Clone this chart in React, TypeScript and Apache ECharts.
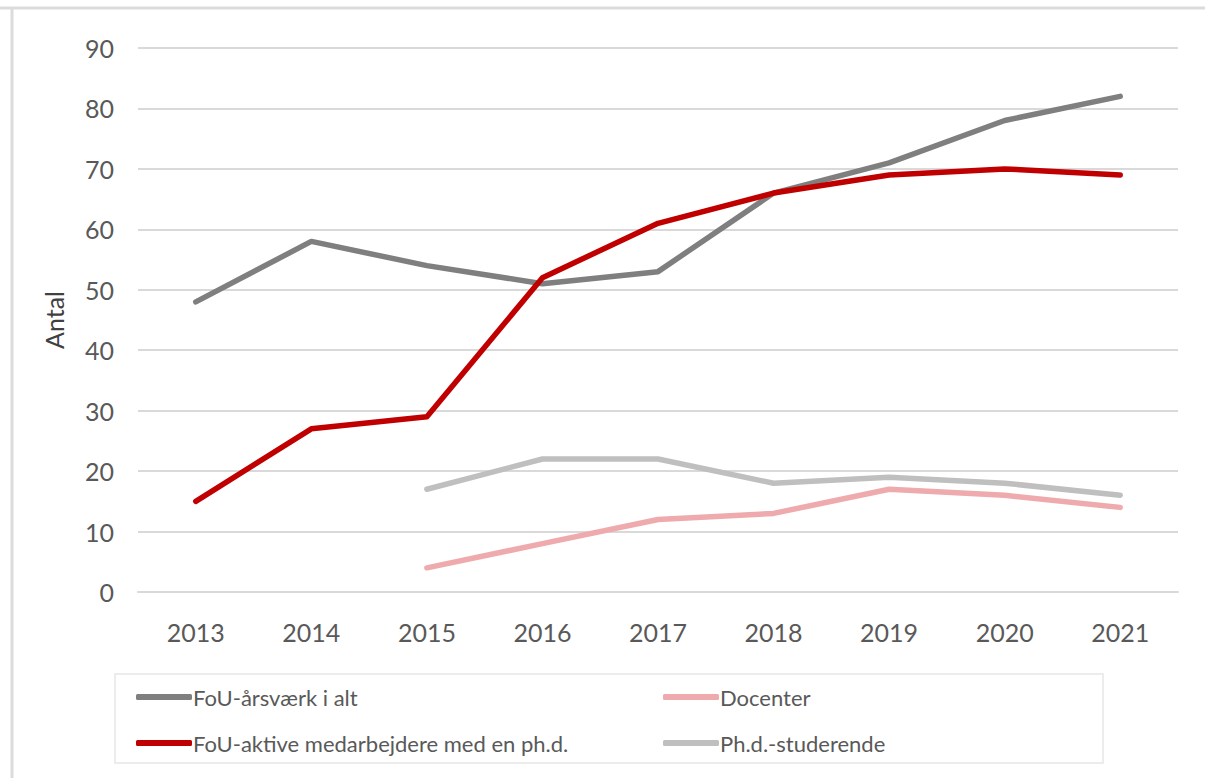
import React, { useEffect, useRef } from "react";
import * as echarts from "echarts";

const years = ["2013", "2014", "2015", "2016", "2017", "2018", "2019", "2020", "2021"];
const fouAarsvaerk = [48, 58, 54, 51, 53, 66, 71, 78, 82];
const fouAktive = [15, 27, 29, 52, 61, 66, 69, 70, 69];
const docenter = [null, null, 4, 8, 12, 13, 17, 16, 14];
const phdStuderende = [null, null, 17, 22, 22, 18, 19, 18, 16];
const names = [
  "FoU-årsværk i alt",
  "FoU-aktive medarbejdere med en ph.d.",
  "Docenter",
  "Ph.d.-studerende",
];
const colors = ["#7f7f7f", "#c00000", "#eeaaad", "#bfbfbf"];

const FONT = "Lato, 'DejaVu Sans Condensed', sans-serif";

export default function App() {
  const ref = useRef<HTMLDivElement>(null);
  useEffect(() => {
    document.body.style.margin = "0";
    const chart = echarts.init(ref.current!, null, { renderer: "svg" });
    const seriesData = [fouAarsvaerk, fouAktive, docenter, phdStuderende];
    const legendCommon = {
      orient: "vertical",
      top: 681,
      itemGap: 24,
      itemWidth: 56,
      itemHeight: 6,
      icon: "roundRect",
      textStyle: { color: "#595959", fontSize: 22, fontFamily: FONT, padding: [0, 0, 0, -4] },
    };
    chart.setOption({
      animation: false,
      backgroundColor: "#ffffff",
      grid: { left: 138, right: 27, top: 48, bottom: 186 },
      xAxis: {
        type: "category",
        data: years,
        boundaryGap: true,
        axisLine: { show: true, lineStyle: { color: "#d9d9d9", width: 2 } },
        axisTick: { show: false },
        axisLabel: { color: "#595959", fontSize: 25, fontFamily: FONT, margin: 27 },
      },
      yAxis: {
        type: "value",
        min: 0,
        max: 90,
        interval: 10,
        name: "Antal",
        nameLocation: "middle",
        nameGap: 72,
        nameRotate: 90,
        nameTextStyle: { color: "#404040", fontSize: 25, fontFamily: FONT },
        axisLine: { show: false },
        axisTick: { show: false },
        axisLabel: { color: "#595959", fontSize: 25, fontFamily: FONT, margin: 24 },
        splitLine: { lineStyle: { color: "#d9d9d9", width: 2 } },
      },
      legend: [
        { ...legendCommon, data: [names[0], names[1]], left: 131 },
        { ...legendCommon, data: [names[2], names[3]], left: 658 },
      ],
      graphic: [
        { type: "line", shape: { x1: 0, y1: 8, x2: 1205, y2: 8 }, style: { stroke: "#dcdcdc", lineWidth: 3 } },
        { type: "line", shape: { x1: 12, y1: 8, x2: 12, y2: 778 }, style: { stroke: "#dcdcdc", lineWidth: 3 } },
        {
          type: "rect",
          shape: { x: 115, y: 674, width: 988, height: 89 },
          style: { fill: "none", stroke: "#e6e6e6", lineWidth: 1.5 },
        },
      ],
      series: seriesData.map((d, i) => ({
        name: names[i],
        type: "line",
        data: d,
        symbol: "none",
        connectNulls: false,
        z: i === 1 ? 4 : i === 0 ? 3 : 2,
        lineStyle: { color: colors[i], width: 5.5, cap: "round", join: "round" },
        itemStyle: { color: colors[i] },
      })),
    });
    return () => chart.dispose();
  }, []);
  return <div ref={ref} style={{ width: 1205, height: 778 }} />;
}
